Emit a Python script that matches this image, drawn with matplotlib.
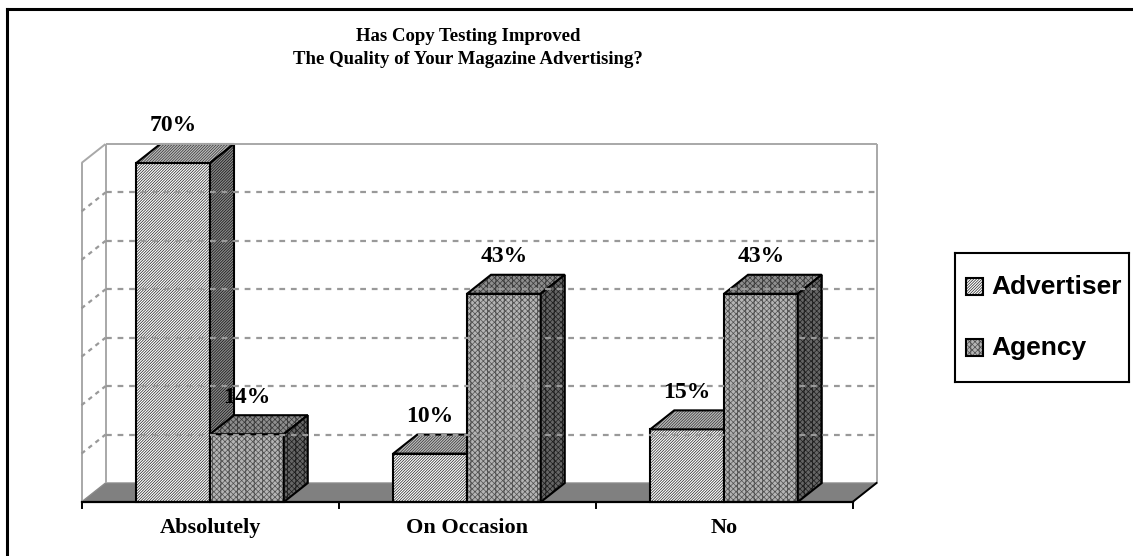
import matplotlib
matplotlib.use("Agg")
import matplotlib.pyplot as plt
from matplotlib.patches import Polygon, Rectangle

categories = ["Absolutely", "On Occasion", "No"]
advertiser = [70, 10, 15]
agency = [14, 43, 43]
series_names = ["Advertiser", "Agency"]
title = "Has Copy Testing Improved\nThe Quality of Your Magazine Advertising?"
grid_levels = [10, 20, 30, 40, 50, 60]

plt.rcParams['hatch.linewidth'] = 0.5
SERIF = "Liberation Serif"
SANS = "Liberation Sans"

W, H = 1133, 556
fig = plt.figure(figsize=(W / 100, H / 100), dpi=100)
fig.patch.set_facecolor("white")

# plot area: front plane of the fake 3d chart
ax = fig.add_axes([81.5 / W, 54 / H, 771 / W, 339 / H])
ax.set_xlim(-0.5, 2.5)
ax.set_ylim(0, 70)
ax.axis("off")

DX, DY = 0.0934, 3.92   # depth offset in data units
BW = 0.287              # bar width
YMAX = 70

# styles: hatch, (front, top, side) -> (facecolor, hatchcolor)
styles = {
    "Advertiser": ("////////////", [("white", "#222222"), ("#bdbdbd", "#303030"), ("#8a8a8a", "#101010")]),
    "Agency": ("||xxxxxx", [("#b4b4b4", "#505050"), ("#8e8e8e", "#3a3a3a"), ("#666666", "#1e1e1e")]),
}
GRID = "#999999"

# back wall / side wall
wall_kw = dict(color="#a8a8a8", lw=1.4, clip_on=False, solid_capstyle="butt")
ax.plot([-0.5, -0.5], [0, YMAX], **wall_kw)
ax.plot([-0.5, -0.5 + DX], [YMAX, YMAX + DY], **wall_kw)
ax.plot([-0.5 + DX, -0.5 + DX], [DY, YMAX + DY], **wall_kw)
ax.plot([-0.5 + DX, 2.5 + DX], [YMAX + DY, YMAX + DY], **wall_kw)
ax.plot([2.5 + DX, 2.5 + DX], [DY, YMAX + DY], **wall_kw)

for v in grid_levels:
    ax.plot([-0.5 + DX, 2.5 + DX], [v + DY, v + DY], color=GRID, lw=1.6,
            ls=(0, (2.6, 2.6)), clip_on=False)
    ax.plot([-0.5, -0.5 + DX], [v, v + DY], color=GRID, lw=1.6,
            ls=(0, (2.0, 2.0)), clip_on=False)

# floor
ax.add_patch(Polygon([(-0.5, 0), (2.5, 0), (2.5 + DX, DY), (-0.5 + DX, DY)],
                     closed=True, facecolor="#808080", edgecolor="#8a8a8a",
                     lw=1.0, clip_on=False))
ax.plot([2.5, 2.5 + DX], [0, DY], color="black", lw=1.4, clip_on=False)
ax.plot([-0.5, 2.5], [0, 0], color="black", lw=1.6, clip_on=False)
for t in [-0.5, 0.5, 1.5, 2.5]:
    ax.plot([t, t], [0, -1.3], color="black", lw=1.4, clip_on=False)


def draw_box(x0, h, name):
    hatch, cols = styles[name]
    front = [(x0, 0), (x0 + BW, 0), (x0 + BW, h), (x0, h)]
    top = [(x0, h), (x0 + BW, h), (x0 + BW + DX, h + DY), (x0 + DX, h + DY)]
    side = [(x0 + BW, 0), (x0 + BW + DX, DY), (x0 + BW + DX, h + DY), (x0 + BW, h)]
    for pts, (fc, hc) in zip([front, top, side], cols):
        ax.add_patch(Polygon(pts, closed=True, facecolor=fc, edgecolor=hc,
                             hatch=hatch, lw=0, clip_on=False))
        ax.add_patch(Polygon(pts, closed=True, fill=False, edgecolor="black",
                             lw=1.5, joinstyle="miter", clip_on=False))


for i, cat in enumerate(categories):
    draw_box(i - BW, advertiser[i], "Advertiser")
    draw_box(i, agency[i], "Agency")
    for x0, v in [(i - BW, advertiser[i]), (i, agency[i])]:
        ax.text(x0 + BW / 2, v + DY + 2.6, f"{v}%", ha="center",
                va="baseline", fontsize=17, fontweight="bold", family=SERIF)
    ax.text(i, -5.4, cat, ha="center", va="center", fontsize=16,
            fontweight="bold", family=SERIF)

# title
fig.text(468 / W, 1 - 48 / H, title, ha="center", va="center", fontsize=13.5,
         fontweight="bold", family=SERIF, linespacing=1.45)

# legend box
lax = fig.add_axes([955 / W, 1 - 382 / H, 174 / W, 129 / H])
lax.set_xlim(0, 174)
lax.set_ylim(129, 0)
lax.set_xticks([])
lax.set_yticks([])
for s in lax.spines.values():
    s.set_linewidth(1.5)
    s.set_color("black")
for name, yc in zip(series_names, [34, 95]):
    hatch, cols = styles[name]
    fc, hc = cols[0]
    lax.add_patch(Rectangle((11, yc - 8.5), 17, 17, facecolor=fc, edgecolor=hc,
                            hatch=hatch, lw=0))
    lax.add_patch(Rectangle((11, yc - 8.5), 17, 17, fill=False,
                            edgecolor="black", lw=1.5))
    lax.text(36, yc, name, ha="left", va="center", fontsize=19,
             fontweight="bold", family=SANS)

# outer frame (left and top edges visible)
fig.add_artist(plt.Line2D([7 / W, 7 / W], [0, 1 - 9 / H], color="black", lw=2.2,
                          transform=fig.transFigure))
fig.add_artist(plt.Line2D([7 / W, 1], [1 - 9 / H, 1 - 9 / H], color="black",
                          lw=2.2, transform=fig.transFigure))

fig.savefig("out.png", dpi=100)
